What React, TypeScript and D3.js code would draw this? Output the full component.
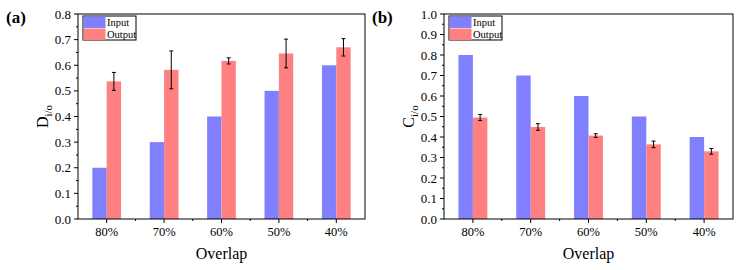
import React from 'react';
import * as d3 from 'd3';

const categories = ['80%', '70%', '60%', '50%', '40%'];
const dInput = [0.2, 0.3, 0.4, 0.5, 0.6];
const dOutput = [0.537, 0.582, 0.617, 0.646, 0.67];
const dError = [0.035, 0.074, 0.012, 0.056, 0.034];
const dTicks = [0, 0.1, 0.2, 0.3, 0.4, 0.5, 0.6, 0.7, 0.8];
const cInput = [0.8, 0.7, 0.6, 0.5, 0.4];
const cOutput = [0.495, 0.449, 0.407, 0.364, 0.33];
const cError = [0.015, 0.016, 0.009, 0.016, 0.014];
const cTicks = [0, 0.1, 0.2, 0.3, 0.4, 0.5, 0.6, 0.7, 0.8, 0.9, 1.0];
const seriesNames = ['Input', 'Output'];

const INPUT_COLOR = '#8080ff';
const OUTPUT_COLOR = '#ff8080';
const FONT = "'Liberation Serif', 'DejaVu Serif', serif";

interface PanelProps {
  left: number;
  right: number;
  tag: string;
  letter: string;
  input: number[];
  output: number[];
  error: number[];
  ticks: number[];
}

const Panel: React.FC<PanelProps> = ({ left, right, tag, letter, input, output, error, ticks }) => {
  const top = 14;
  const bottom = 219;
  const yMax = ticks[ticks.length - 1];

  const y = d3.scaleLinear().domain([0, yMax]).range([bottom, top]);
  const x = d3.scaleBand<string>().domain(categories).range([left, right]).paddingInner(0).paddingOuter(0);
  const bw = x.bandwidth() * 0.25;

  // minor ticks halfway between majors
  const minor = ticks.slice(0, -1).map((t, i) => (t + ticks[i + 1]) / 2);

  return (
    <g>
      {/* panel tag */}
      <text x={left - 72} y={23} fontSize={17} fontWeight="bold">{tag}</text>

      {/* bars */}
      {categories.map((c, i) => {
        const cx = x(c)! + x.bandwidth() / 2;
        return (
          <g key={c}>
            <rect x={cx - bw} y={y(input[i])} width={bw} height={bottom - y(input[i])} fill={INPUT_COLOR} />
            <rect x={cx} y={y(output[i])} width={bw} height={bottom - y(output[i])} fill={OUTPUT_COLOR} />
            <g stroke="#000" strokeWidth={1}>
              <line x1={cx + bw / 2} x2={cx + bw / 2} y1={y(output[i] + error[i])} y2={y(output[i] - error[i])} />
              <line x1={cx + bw / 2 - 2} x2={cx + bw / 2 + 2} y1={y(output[i] + error[i])} y2={y(output[i] + error[i])} />
              <line x1={cx + bw / 2 - 2} x2={cx + bw / 2 + 2} y1={y(output[i] - error[i])} y2={y(output[i] - error[i])} />
            </g>
          </g>
        );
      })}

      {/* frame */}
      <rect x={left} y={top} width={right - left} height={bottom - top} fill="none" stroke="#000" strokeWidth={1} />

      {/* y axis ticks */}
      {ticks.map(t => (
        <g key={t}>
          <line x1={left - 4} x2={left} y1={y(t)} y2={y(t)} stroke="#000" />
          <text x={left - 7} y={y(t)} dy="0.35em" textAnchor="end" fontSize={13}>{t.toFixed(1)}</text>
        </g>
      ))}
      {minor.map(t => (
        <line key={t} x1={left - 2} x2={left} y1={y(t)} y2={y(t)} stroke="#000" />
      ))}

      {/* x axis ticks */}
      {categories.map(c => {
        const cx = x(c)! + x.bandwidth() / 2;
        return (
          <g key={c}>
            <line x1={cx} x2={cx} y1={bottom} y2={bottom + 4} stroke="#000" />
            <text x={cx} y={bottom + 17} textAnchor="middle" fontSize={12.5}>{c}</text>
          </g>
        );
      })}
      {categories.slice(1).map(c => (
        <line key={c} x1={x(c)!} x2={x(c)!} y1={bottom} y2={bottom + 2} stroke="#000" />
      ))}

      {/* axis titles */}
      <text x={(left + right) / 2} y={259} textAnchor="middle" fontSize={16}>Overlap</text>
      <text transform={`translate(${left - 30},${(top + bottom) / 2}) rotate(-90)`} textAnchor="middle" fontSize={16}>
        {letter}
        <tspan fontSize={11} dy={4}>i/o</tspan>
      </text>

      {/* legend */}
      <g transform={`translate(${left + 5},${top + 2})`}>
        <rect x={0} y={0} width={53} height={24} fill="#fff" stroke="#000" strokeWidth={1} />
        {seriesNames.map((s, i) => (
          <g key={s} transform={`translate(0,${i * 12})`}>
            <rect x={0.5} y={0.5} width={22} height={11.5} fill={i === 0 ? INPUT_COLOR : OUTPUT_COLOR} />
            <text x={24} y={9.5} fontSize={10.5}>{s}</text>
          </g>
        ))}
      </g>
    </g>
  );
};

export default function App() {
  return (
    <svg width={755} height={270} style={{ position: 'absolute', left: 0, top: 0, background: '#fff', fontFamily: FONT }}>
      <rect width={755} height={270} fill="#fff" />
      <Panel left={78} right={365} tag="(a)" letter="D" input={dInput} output={dOutput} error={dError} ticks={dTicks} />
      <Panel left={444} right={733} tag="(b)" letter="C" input={cInput} output={cOutput} error={cError} ticks={cTicks} />
    </svg>
  );
}
